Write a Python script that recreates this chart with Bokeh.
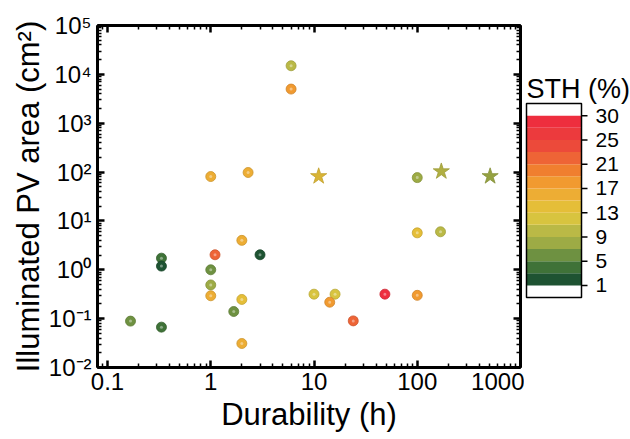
import numpy as np
from bokeh.plotting import figure
from bokeh.layouts import row
from bokeh.models import LogAxis, FixedTicker, ColumnDataSource
from bokeh.core.properties import value
from bokeh.embed import file_html
from bokeh.resources import INLINE

# ---------------- data ----------------
durability_h = [6, 6, 1.0, 2.3, 100, 2.0, 0.333, 0.333, 1.1, 3.0, 1.0, 1.0, 1.0,
                2.0, 1.67, 0.167, 0.333, 2.0, 100, 168, 10, 16, 14.2, 24, 48.6, 100]
pv_area_cm2 = [15000, 5000, 81, 98, 77, 4.0, 1.73, 1.19, 2.03, 2.03, 1.0, 0.49, 0.294,
               0.247, 0.14, 0.089, 0.067, 0.031, 5.7, 6.0, 0.317, 0.317, 0.217, 0.09, 0.317, 0.30]
sth_pct = [10, 18, 16, 16, 8, 16, 4, 2, 22, 2, 6, 8, 16,
           14, 6, 6, 4, 16, 14, 10, 12, 12, 18, 22, 29, 18]

star_durability_h = [11.1, 171, 508]
star_pv_area_cm2 = [82, 103, 82]
star_sth_pct = [14, 10, 8]

sth_levels = [1, 3, 5, 7, 9, 11, 13, 15, 17, 19, 21, 23, 25, 27.5, 30]
sth_palette = ["#1E5332", "#3F7238", "#6E9141", "#9DAB45", "#BAB946", "#D8C43F", "#E5BE38",
               "#EDAD34", "#F19A30", "#F07F2F", "#EE6436", "#EC4A3A", "#EC3A3D", "#EE2E3E"]
sth_tick_labels = [1, 5, 9, 13, 17, 21, 25, 30]

x_ticks = [0.1, 1, 10, 100, 1000]
x_tick_labels = ["0.1", "1", "10", "100", "1000"]
y_ticks = [1e-2, 1e-1, 1e0, 1e1, 1e2, 1e3, 1e4, 1e5]
y_tick_labels = ["10\u207b\u00b2", "10\u207b\u00b9", "10\u2070", "10\u00b9",
                 "10\u00b2", "10\u00b3", "10\u2074", "10\u2075"]

FONT = "Liberation Sans"


def sth_color(v):
    i = int(np.clip(np.searchsorted(sth_levels, v, side="right") - 1, 0, len(sth_palette) - 1))
    return sth_palette[i]


def shade(hexcol, f):
    h = hexcol.lstrip("#")
    r, g, b = (int(h[k:k + 2], 16) for k in (0, 2, 4))
    if f < 1:
        r, g, b = (int(c * f) for c in (r, g, b))
    else:
        t = f - 1
        r, g, b = (int(c + (255 - c) * t) for c in (r, g, b))
    return "#%02x%02x%02x" % (r, g, b)


balls = ColumnDataSource(dict(
    x=durability_h, y=pv_area_cm2,
    c=[sth_color(v) for v in sth_pct],
    edge=[shade(sth_color(v), 0.86) for v in sth_pct],
    hi=[shade(sth_color(v), 1.4) for v in sth_pct],
))
stars = ColumnDataSource(dict(
    x=star_durability_h, y=star_pv_area_cm2,
    c=[shade(sth_color(v), 0.95) for v in star_sth_pct],
    edge=[shade(sth_color(v), 0.85) for v in star_sth_pct],
))

TOP, BOTTOM = 25, 72

p = figure(width=524, height=439, x_axis_type="log", y_axis_type="log",
           x_range=(0.08, 1000), y_range=(0.01, 1e5),
           output_backend="svg", toolbar_location=None,
           min_border_left=97, min_border_right=4, min_border_top=TOP, min_border_bottom=BOTTOM)
p.grid.visible = False
p.outline_line_color = "black"
p.outline_line_width = 2

x_minor = [k * 10.0 ** n for n in range(-2, 3) for k in range(2, 10)]
y_minor = [k * 10.0 ** n for n in range(-2, 5) for k in range(2, 10)]


def style_axis(ax, labels=True):
    ax.axis_line_width = 3
    ax.axis_line_color = "black"
    ax.major_tick_in = 7
    ax.major_tick_out = 0
    ax.minor_tick_in = 4
    ax.minor_tick_out = 0
    ax.major_tick_line_width = 2.5
    ax.minor_tick_line_width = 1.5
    ax.major_tick_line_color = "black"
    ax.minor_tick_line_color = "black"
    ax.major_label_text_font = FONT
    ax.major_label_text_color = "black"
    ax.major_label_text_font_size = "24px"
    ax.major_label_standoff = 5
    if not labels:
        ax.major_label_text_color = None
        ax.major_label_text_font_size = "2px"
        ax.major_label_standoff = 0


xax = p.xaxis[0]
xax.ticker = FixedTicker(ticks=x_ticks, minor_ticks=x_minor)
xax.major_label_overrides = {t: s for t, s in zip(x_ticks, x_tick_labels)}
style_axis(xax)
xax.axis_label = "Durability (h)"
xax.axis_label_text_font = FONT
xax.axis_label_text_font_size = "31px"
xax.axis_label_text_font_style = "normal"
xax.axis_label_text_color = "black"
xax.axis_label_standoff = 4

yax = p.yaxis[0]
yax.ticker = FixedTicker(ticks=y_ticks, minor_ticks=y_minor)
yax.major_label_overrides = {t: s for t, s in zip(y_ticks, y_tick_labels)}
style_axis(yax)
yax.major_label_standoff = 6
yax.axis_label = "Illuminated PV area (cm\u00b2)"
yax.axis_label_text_font = FONT
yax.axis_label_text_font_size = "31px"
yax.axis_label_text_font_style = "normal"
yax.axis_label_text_color = "black"
yax.axis_label_standoff = 0

top = LogAxis(ticker=FixedTicker(ticks=x_ticks, minor_ticks=x_minor),
              major_label_overrides={t: "" for t in x_ticks})
style_axis(top, labels=False)
p.add_layout(top, "above")
right = LogAxis(ticker=FixedTicker(ticks=y_ticks, minor_ticks=y_minor),
                major_label_overrides={t: "" for t in y_ticks})
style_axis(right, labels=False)
p.add_layout(right, "right")

# data marks
p.scatter("x", "y", source=balls, marker="circle", size=10,
          fill_color="c", line_color="edge", line_width=0.8)
p.scatter("x", "y", source=balls, marker="circle", size=3,
          fill_color="hi", line_color=None)
p.scatter("x", "y", source=stars, marker="star", size=17,
          fill_color="c", line_color="edge", line_width=0.8)

# ---------------- colour bar (one equal band per STH level interval, white ends) ----------------
n = len(sth_palette)
band = list(range(n))
tick_pos = [sth_levels.index(v) for v in sth_tick_labels]

# layout of the bar inside a frame that shares the main plot's top/bottom (pixels)
frame_h = 439 - TOP - BOTTOM
bar_top_px, bar_bot_px = 103 - TOP, 297 - TOP
unit = (bar_bot_px - bar_top_px) / (n + 2)
y_hi = (n + 1) + bar_top_px / unit
y_lo = -1 - (frame_h - bar_bot_px) / unit
bar_w = 55.0

cbf = figure(width=106, height=439, x_range=(-2 / bar_w, 104 / bar_w), y_range=(y_lo, y_hi),
             x_axis_location=None, y_axis_location=None,
             output_backend="svg", toolbar_location=None,
             min_border_left=0, min_border_right=0, min_border_top=TOP, min_border_bottom=BOTTOM)
cbf.grid.visible = False
cbf.outline_line_color = None
cbf.quad(left=0, right=1, bottom=band, top=[b + 1 for b in band],
         fill_color=sth_palette, line_color=None)
cbf.quad(left=[0], right=[1], bottom=[-1], top=[n + 1], fill_color=None,
         line_color="black", line_width=1.5)
cbf.segment(x0=1, x1=1 + 6 / bar_w, y0=tick_pos, y1=tick_pos,
            line_color="black", line_width=1.5)
cbf.text(x=1 + 14 / bar_w, y=tick_pos, text=[str(s) for s in sth_tick_labels],
         text_font=value(FONT), text_font_size="21px", text_color="black",
         text_baseline="middle", text_align="left")
cbf.text(x=[0], y=[(n + 1) + 15 / unit], text=["STH (%)"],
         text_font=value(FONT), text_font_size="27px", text_color="black",
         text_baseline="alphabetic", text_align="left")

layout = row(p, cbf)
open("out.html", "w").write(file_html(layout, INLINE))
